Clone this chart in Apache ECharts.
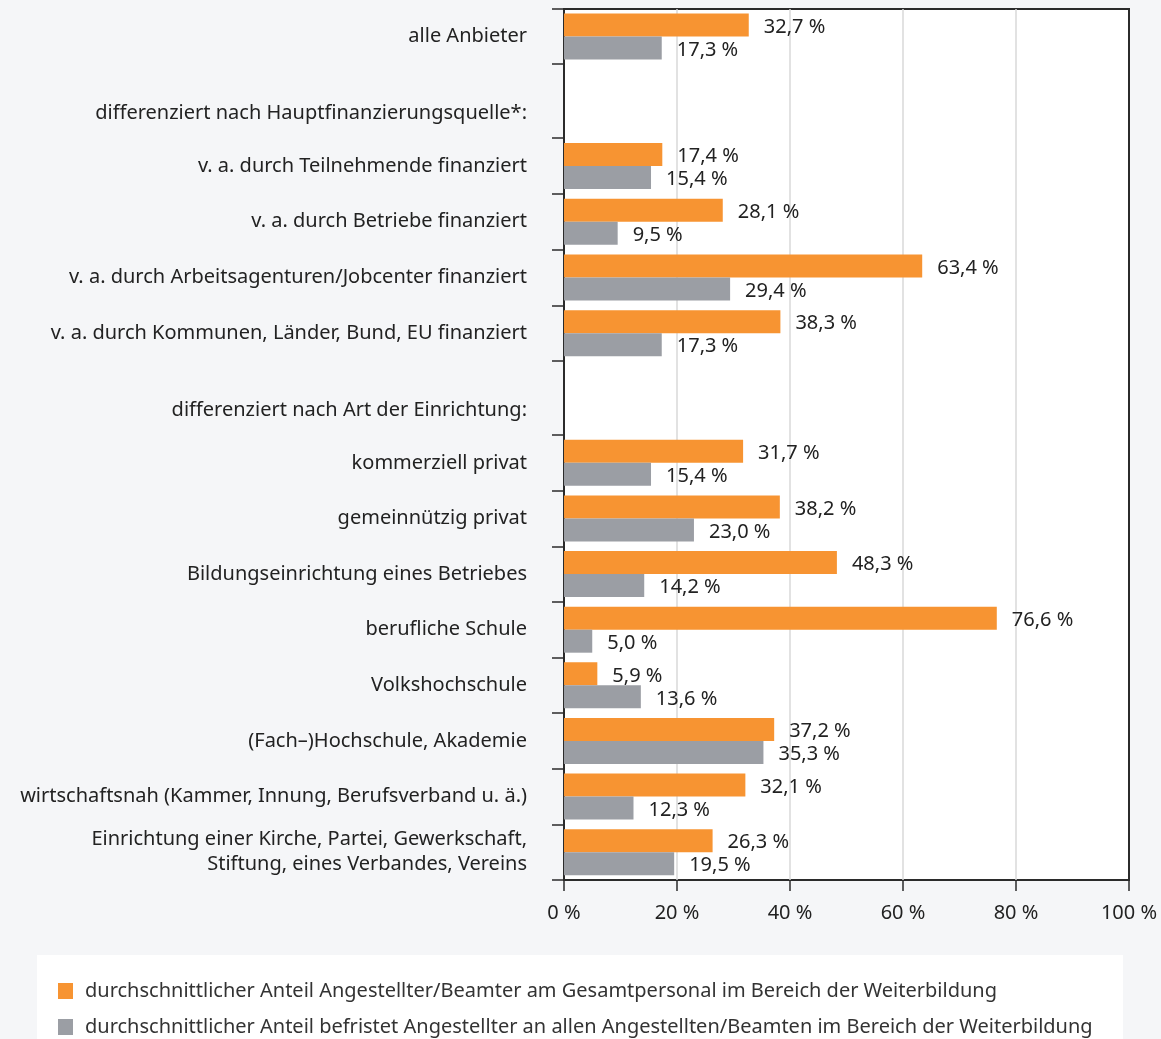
<!DOCTYPE html>
<html>
<head>
<meta charset="utf-8">
<script src="https://cdn.jsdelivr.net/npm/echarts@6/dist/echarts.min.js"></script>
<style>
  html, body { margin: 0; padding: 0; background: #f5f6f8; }
  #chart { width: 1161px; height: 1039px; }
</style>
</head>
<body>
<div id="chart"></div>
<script>
// data
const allCategory = ['alle Anbieter']
const allStaff = [32.7]
const allFixed = [17.3]

const headerFinance = 'differenziert nach Hauptfinanzierungsquelle*:'
const financeCategories = [
  'v. a. durch Teilnehmende finanziert',
  'v. a. durch Betriebe finanziert',
  'v. a. durch Arbeitsagenturen/Jobcenter finanziert',
  'v. a. durch Kommunen, Länder, Bund, EU finanziert'
]
const financeStaff = [17.4, 28.1, 63.4, 38.3]
const financeFixed = [15.4, 9.5, 29.4, 17.3]

const headerType = 'differenziert nach Art der Einrichtung:'
const typeCategories = [
  'kommerziell privat',
  'gemeinnützig privat',
  'Bildungseinrichtung eines Betriebes',
  'berufliche Schule',
  'Volkshochschule',
  '(Fach–)Hochschule, Akademie',
  'wirtschaftsnah (Kammer, Innung, Berufsverband u. ä.)',
  'Einrichtung einer Kirche, Partei, Gewerkschaft,\nStiftung, eines Verbandes, Vereins'
]
const typeStaff = [31.7, 38.2, 48.3, 76.6, 5.9, 37.2, 32.1, 26.3]
const typeFixed = [15.4, 23.0, 14.2, 5.0, 13.6, 35.3, 12.3, 19.5]

const xTicks = [0, 20, 40, 60, 80, 100]

const nameStaff = 'durchschnittlicher Anteil Angestellter/Beamter am Gesamtpersonal im Bereich der Weiterbildung'
const nameFixed = 'durchschnittlicher Anteil befristet Angestellter an allen Angestellten/Beamten im Bereich der Weiterbildung'

const ORANGE = '#f79432'
const GREY = '#9b9ea4'
const DARK = '#2b2b2b'
const FONT = 'Noto Sans'
const SIZE = 20

// one grid per block so the header rows can be taller than the bar rows
const blocks = [
  { top: 9, height: 55, cats: allCategory, staff: allStaff, fixed: allFixed },
  { top: 64, height: 74, cats: [headerFinance], header: true },
  { top: 138, height: 223, cats: financeCategories, staff: financeStaff, fixed: financeFixed },
  { top: 361, height: 74, cats: [headerType], header: true },
  { top: 435, height: 445, cats: typeCategories, staff: typeStaff, fixed: typeFixed }
]
const last = blocks.length - 1

const fmt = p => p.value.toFixed(1).replace('.', ',') + ' %'

const grid = blocks.map(b => ({
  left: 564, right: 32, top: b.top, height: b.height,
  show: true, backgroundColor: '#ffffff', borderWidth: 0
}))
// frame round the whole plot area
grid.push({
  left: 564, right: 32, top: 9, height: 871,
  show: true, backgroundColor: 'transparent', borderColor: DARK, borderWidth: 2
})

const xAxis = blocks.map((b, i) => ({
  type: 'value', gridIndex: i, min: 0, max: 100, interval: 20,
  axisLine: { show: false },
  axisTick: { show: i === last, length: 11, lineStyle: { color: DARK, width: 1.5 } },
  axisLabel: {
    show: i === last, margin: 23, fontSize: SIZE, fontFamily: FONT, color: '#222',
    formatter: v => (xTicks.includes(v) ? v + ' %' : '')
  },
  splitLine: {
    show: true, showMinLine: false, showMaxLine: false,
    lineStyle: { color: '#d9d9d9', width: 1.5 }
  }
}))
xAxis.push({ type: 'value', gridIndex: blocks.length, min: 0, max: 100, show: false })

const yAxis = blocks.map((b, i) => ({
  type: 'category', gridIndex: i, data: b.cats, inverse: true,
  axisLine: { show: true, lineStyle: { color: DARK, width: 2 } },
  axisTick: { show: true, length: 12, interval: 0, lineStyle: { color: DARK, width: 1.5 } },
  axisLabel: {
    interval: 0, margin: 37, fontSize: SIZE, fontFamily: FONT, color: '#222',
    lineHeight: 25, align: 'right',
    verticalAlign: b.header ? 'top' : 'middle'
  }
}))
yAxis.push({ type: 'category', gridIndex: blocks.length, data: [''], show: false })

const series = []
blocks.forEach((b, i) => {
  if (b.header) return
  ;[[nameStaff, b.staff, ORANGE], [nameFixed, b.fixed, GREY]].forEach(([name, data, color]) => {
    series.push({
      name, type: 'bar', xAxisIndex: i, yAxisIndex: i, data,
      barWidth: 23, barGap: '0%',
      itemStyle: { color },
      label: {
        show: true, position: 'right', distance: 15, formatter: fmt,
        fontSize: SIZE, fontFamily: FONT, color: '#222', offset: [0, 2]
      },
      animation: false
    })
  })
})

const chart = echarts.init(document.getElementById('chart'))
chart.setOption({
  backgroundColor: '#f5f6f8',
  animation: false,
  graphic: [{
    type: 'rect', left: 37, top: 955, shape: { width: 1086, height: 90 },
    style: { fill: '#ffffff' }, z: -1
  }],
  legend: {
    orient: 'vertical', left: 58, top: 981, height: 120, padding: 0,
    itemWidth: 15, itemHeight: 16, itemGap: 16, icon: 'rect',
    data: [nameStaff, nameFixed],
    textStyle: { fontSize: SIZE, fontFamily: FONT, color: '#333', padding: [0, 0, 0, 7] }
  },
  grid, xAxis, yAxis, series
})
</script>
</body>
</html>
